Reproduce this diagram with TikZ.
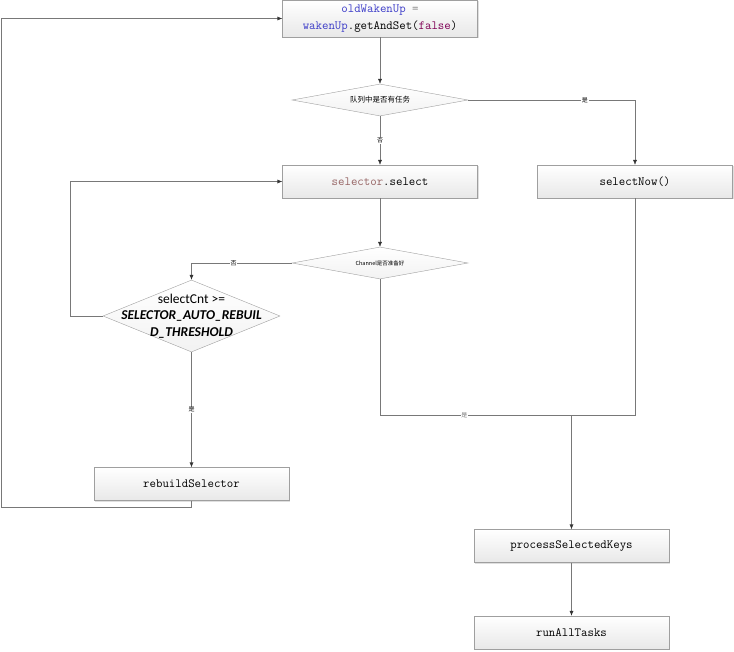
\documentclass[tikz,border=0pt]{standalone}
\usepackage{fontspec}
\newfontfamily\cjk{Noto Sans CJK SC}
\newfontfamily\calib{Carlito}
\usetikzlibrary{shapes.geometric,arrows.meta,shadows}
\definecolor{varblue}{RGB}{60,60,200}
\definecolor{kwpurple}{RGB}{127,0,85}
\definecolor{objbrown}{RGB}{150,100,100}
\definecolor{edgegray}{RGB}{120,120,120}

\begin{document}
\begin{tikzpicture}
  [x=1pt, y=-1pt,
    proc/.style={
      rectangle, draw=gray!75, top color=white, bottom color=gray!18,
      drop shadow={opacity=0.25, shadow xshift=1pt, shadow yshift=-1pt},
      minimum width=195pt, minimum height=33pt, align=center,
      font=\ttfamily\fontsize{12.5}{17}\selectfont
    },
    decide/.style={
      diamond, aspect=5.5, draw=gray!75, top color=white, bottom color=gray!10,
      minimum width=176pt, minimum height=32pt, inner sep=0pt
    },
    flow/.style={draw=edgegray, -{Latex[length=5pt, width=4pt, color=black!80]}},
    yesno/.style={fill=white, inner sep=0.6pt, font=\cjk\fontsize{6}{6}\selectfont},
  ]
  \useasboundingbox (0,0) rectangle (734,651);

  \node[proc, minimum height=37pt] (wake) at (380,18.5)
    {\textcolor{varblue}{oldWakenUp} \textcolor{gray}{=}\\
     \textcolor{varblue}{wakenUp}.getAndSet(\textcolor{kwpurple}{false})};
  \node[decide] (hastask) at (380,100)
    {\cjk\fontsize{7.5}{8}\selectfont 队列中是否有任务};
  \node[proc] (select) at (380,181.5)
    {\textcolor{objbrown}{selector}.select};
  \node[proc] (selnow) at (635,181.5) {selectNow()};
  \node[decide] (ready) at (380,263)
    {\cjk\fontsize{5.5}{6}\selectfont Channel是否准备好};
  \node[decide, aspect=2.4, minimum width=177pt, minimum height=72pt] (cnt) at (191.5,316) {};
  \node[align=center, font=\calib\fontsize{13.5}{16.5}\selectfont] (cnttext) at (cnt)
    {selectCnt >=\\ \textbf{\textit{SELECTOR\_AUTO\_REBUIL}}\\ \textbf{\textit{D\_THRESHOLD}}};
  \node[proc] (rebuild) at (191.5,484) {rebuildSelector};
  \node[proc] (keys) at (571.5,546) {processSelectedKeys};
  \node[proc] (tasks) at (571.5,632.5) {runAllTasks};

  \coordinate (loopback) at (1,507);
  \coordinate (retry) at (70,316);
  \coordinate (merge) at (571.5,415);

  % Edges between nodes
  \draw[flow] (wake) -- (hastask);
  \draw[flow] (hastask.east) -| node[yesno, pos=0.35] {是} (selnow.north);
  \draw[flow] (hastask.south) -- node[yesno] {否} (select.north);
  \draw[flow] (select) -- (ready);
  \draw[flow] (ready.west) -| node[yesno, pos=0.29] {否} (cnt.north);
  \draw[flow] (cnt.west) -- (retry) |- (select.west);
  \draw[flow] (cnt.south) -- node[yesno] {是} (rebuild.north);
  \draw[flow] (rebuild.south) |- (loopback) |- (wake.west);

  % Both ready paths meet before the keys
  \draw[edgegray] (ready.south) |- node[yesno, pos=0.72] {是} (merge);
  \draw[edgegray] (selnow.south) |- (merge);
  \draw[flow] (merge) -- (keys.north);
  \draw[flow] (keys) -- (tasks);
\end{tikzpicture}
\end{document}
